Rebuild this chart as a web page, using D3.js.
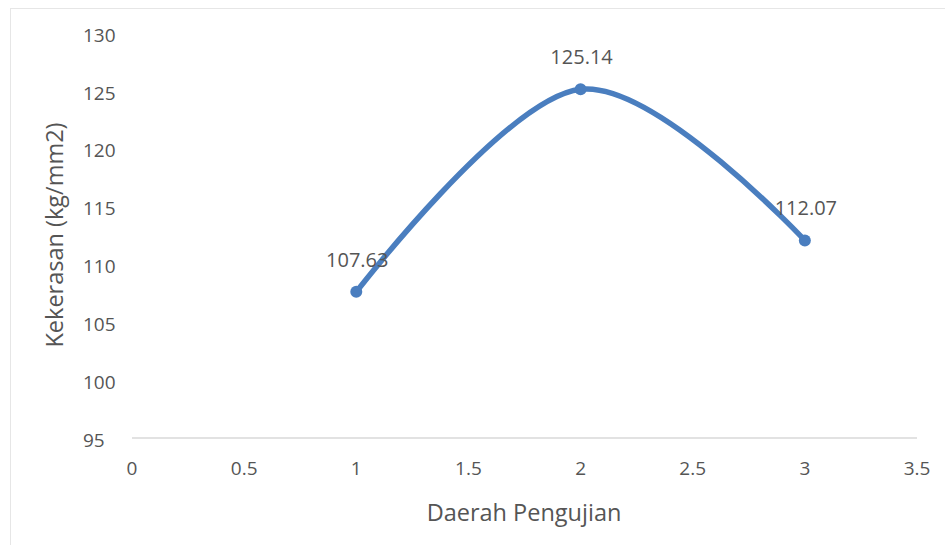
<!DOCTYPE html>
<html>
<head>
<meta charset="utf-8">
<script src="https://cdn.jsdelivr.net/npm/d3@7"></script>
<style>
  body { margin: 0; background: #fff; }
  text { font-family: "Open Sans", sans-serif; fill: #555; }
</style>
</head>
<body>
<script>
var xValues = [1, 2, 3];
var kekerasan = [107.63, 125.14, 112.07];
var xTicks = [0, 0.5, 1, 1.5, 2, 2.5, 3, 3.5];
var yTicks = [95, 100, 105, 110, 115, 120, 125, 130];

var svg = d3.select("body").append("svg")
    .attr("width", 945)
    .attr("height", 545);

// chart border
svg.append("rect")
    .attr("x", 10.5).attr("y", 8.5)
    .attr("width", 945).attr("height", 545)
    .attr("fill", "none")
    .attr("stroke", "#e6e6e6");

var x = d3.scaleLinear().domain([0, 3.5]).range([132, 917]);
var y = d3.scaleLinear().domain([95, 130]).range([438, 33]);

// bottom axis line
svg.append("line")
    .attr("x1", x(0)).attr("x2", x(3.5))
    .attr("y1", y(95)).attr("y2", y(95))
    .attr("stroke", "#d9d9d9")
    .attr("stroke-width", 1.5);

svg.selectAll(".xt").data(xTicks).enter().append("text")
    .attr("x", d => x(d))
    .attr("y", 468)
    .attr("dy", "0.35em")
    .attr("text-anchor", "middle")
    .style("font-size", "19px")
    .text(d => d);

svg.selectAll(".yt").data(yTicks).enter().append("text")
    .attr("x", 83)
    .attr("y", d => y(d) + 2)
    .attr("dy", "0.35em")
    .attr("text-anchor", "start")
    .style("font-size", "19px")
    .text(d => d);

var pts = xValues.map((v, i) => [v, kekerasan[i]]);

svg.append("path")
    .datum(pts)
    .attr("fill", "none")
    .attr("stroke", "#4a7ebf")
    .attr("stroke-width", 5.5)
    .attr("stroke-linecap", "round")
    .attr("d", d3.line().x(d => x(d[0])).y(d => y(d[1])).curve(d3.curveCardinal.tension(0)));

svg.selectAll(".pt").data(pts).enter().append("circle")
    .attr("cx", d => x(d[0]))
    .attr("cy", d => y(d[1]))
    .attr("r", 6)
    .attr("fill", "#4a7ebf");

svg.selectAll(".lbl").data(pts).enter().append("text")
    .attr("x", d => x(d[0]) + 1)
    .attr("y", d => y(d[1]) - 32)
    .attr("dy", "0.35em")
    .attr("text-anchor", "middle")
    .style("font-size", "20px")
    .text(d => d[1].toFixed(2));

svg.append("text")
    .attr("x", 524).attr("y", 513)
    .attr("dy", "0.35em")
    .attr("text-anchor", "middle")
    .style("font-size", "23.5px")
    .text("Daerah Pengujian");

svg.append("text")
    .attr("transform", "translate(55,235) rotate(-90)")
    .attr("dy", "0.35em")
    .attr("text-anchor", "middle")
    .style("font-size", "23.5px")
    .text("Kekerasan (kg/mm2)");
</script>
</body>
</html>
